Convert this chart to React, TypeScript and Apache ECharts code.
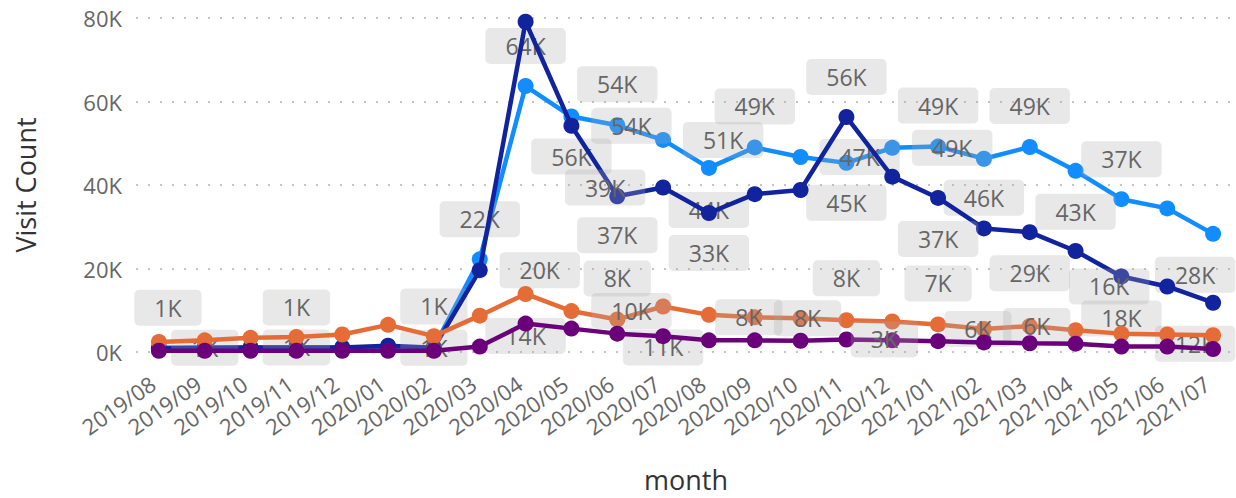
import React, { useEffect, useRef } from "react";
import * as echarts from "echarts";

const months = [
  "2019/08", "2019/09", "2019/10", "2019/11", "2019/12", "2020/01",
  "2020/02", "2020/03", "2020/04", "2020/05", "2020/06", "2020/07",
  "2020/08", "2020/09", "2020/10", "2020/11", "2020/12", "2021/01",
  "2021/02", "2021/03", "2021/04", "2021/05", "2021/06", "2021/07",
];

const yTicks = [0, 20000, 40000, 60000, 80000];

const seriesNames = ["Series 1", "Series 2", "Series 3", "Series 4"];
const seriesColors = ["#118DFF", "#12239E", "#E66C37", "#6B007B"];

const lightBlueValues = [
  1000, 1000, 1100, 1100, 1100, 1200, 1100, 22200, 63700, 56400, 54300, 50800,
  44100, 49000, 46700, 45300, 48900, 49200, 46300, 49100, 43400, 36600, 34400, 28300,
];
const navyValues = [
  900, 1000, 1100, 1100, 1100, 1500, 1000, 19600, 79100, 54200, 37300, 39400,
  33300, 37800, 38800, 56300, 42000, 36900, 29600, 28700, 24200, 18100, 15700, 11800,
];
const orangeValues = [
  2400, 2800, 3400, 3600, 4200, 6500, 3800, 8700, 13900, 9800, 7800, 10900,
  8900, 8300, 8100, 7600, 7300, 6600, 5500, 6200, 5200, 4400, 4200, 4000,
];
const purpleValues = [
  300, 300, 300, 300, 300, 300, 300, 1300, 6800, 5600, 4400, 3800,
  2800, 2800, 2700, 3000, 2800, 2600, 2300, 2100, 2000, 1300, 1300, 700,
];

const allValues = [lightBlueValues, navyValues, orangeValues, purpleValues];

// which data labels are shown: [series, month index, dx, dy] (offset of label box from its point)
const labelPlacements: [number, number, number, number][] = [
  [0, 0, 9, -40], [0, 3, 0, -40], [0, 6, 0, -41], [0, 7, 0, -40], [0, 8, 0, -40],
  [0, 9, 0, 40], [0, 10, 0, -41], [0, 11, 60, 0], [0, 12, 0, 42], [0, 13, 0, -41],
  [0, 14, 59, 0], [0, 15, 0, 40], [0, 16, 60, 0], [0, 17, 0, -41], [0, 18, 0, 39],
  [0, 19, 0, -41], [0, 20, 0, 41], [0, 21, 0, -40], [0, 23, -18, 41],
  [1, 1, 0, 0], [1, 3, 0, 0], [1, 6, 0, 0], [1, 7, 60, 0], [1, 9, 60, 0],
  [1, 10, 0, 39], [1, 11, -58, 0], [1, 12, 0, 40], [1, 15, 0, -40], [1, 17, 0, 41],
  [1, 19, 0, 41], [1, 21, 0, 42], [1, 22, -58, 0], [1, 23, -18, 41],
  [2, 8, 0, 42], [2, 9, 60, 0], [2, 10, 0, -41], [2, 11, 0, 41], [2, 13, -6, 0],
  [2, 14, 7, 0], [2, 15, 0, -42], [2, 17, 0, -41], [2, 18, -6, 0], [2, 19, 7, 0],
  [3, 15, 38, 0],
];

const FONT = "'Open Sans', 'Noto Sans', sans-serif";
const fmtK = (v: number) => `${Math.round(v / 1000)}K`;

export default function App() {
  const ref = useRef<HTMLDivElement>(null);

  useEffect(() => {
    if (!ref.current) return;
    const chart = echarts.init(ref.current, undefined, { renderer: "svg" });

    const series = allValues.map((vals, s) => ({
      name: seriesNames[s],
      type: "line",
      data: vals.map((v, i) => {
        const p = labelPlacements.find((q) => q[0] === s && q[1] === i);
        if (!p) return v;
        return {
          value: v,
          label: { show: true, position: "inside", offset: [p[2], p[3]] },
        };
      }),
      symbol: "circle",
      symbolSize: 16,
      showSymbol: true,
      lineStyle: { width: 4.5, color: seriesColors[s] },
      itemStyle: { color: seriesColors[s] },
      emphasis: { disabled: true },
      label: {
        show: false,
        formatter: (p: any) => fmtK(p.value),
        fontFamily: FONT,
        fontSize: 23,
        color: "#666666",
        backgroundColor: "rgba(170,170,170,0.27)",
        padding: [5, 20],
        lineHeight: 26,
        borderRadius: 5,
      },
      z: 2 + s,
    }));

    chart.setOption({
      animation: false,
      textStyle: { fontFamily: FONT },
      grid: { left: 136, right: -2, top: 18, bottom: 141, containLabel: false },
      xAxis: {
        type: "category",
        data: months,
        boundaryGap: true,
        axisLine: { show: false },
        axisTick: { show: false },
        axisLabel: {
          interval: 0,
          rotate: 35,
          fontSize: 22,
          color: "#666666",
          fontFamily: FONT,
          margin: 38,
          verticalAlign: "bottom",
        },
        name: "month",
        nameLocation: "middle",
        nameGap: 114,
        nameTextStyle: { fontSize: 27, color: "#333333", fontFamily: FONT },
      },
      yAxis: {
        type: "value",
        min: yTicks[0],
        max: yTicks[yTicks.length - 1],
        interval: yTicks[1] - yTicks[0],
        axisLine: { show: false },
        axisTick: { show: false },
        axisLabel: {
          formatter: (v: number) => fmtK(v),
          fontSize: 22,
          color: "#666666",
          fontFamily: FONT,
          margin: 14,
        },
        splitLine: {
          lineStyle: { color: "#c4c4c4", width: 2, type: [2, 10] },
        },
        name: "Visit Count",
        nameLocation: "middle",
        nameRotate: 90,
        nameGap: 97,
        nameTextStyle: { fontSize: 27, color: "#333333", fontFamily: FONT },
      },
      series,
    });

    return () => chart.dispose();
  }, []);

  return (
    <div
      ref={ref}
      style={{ position: "absolute", left: 0, top: 0, width: 1236, height: 498 }}
    />
  );
}
